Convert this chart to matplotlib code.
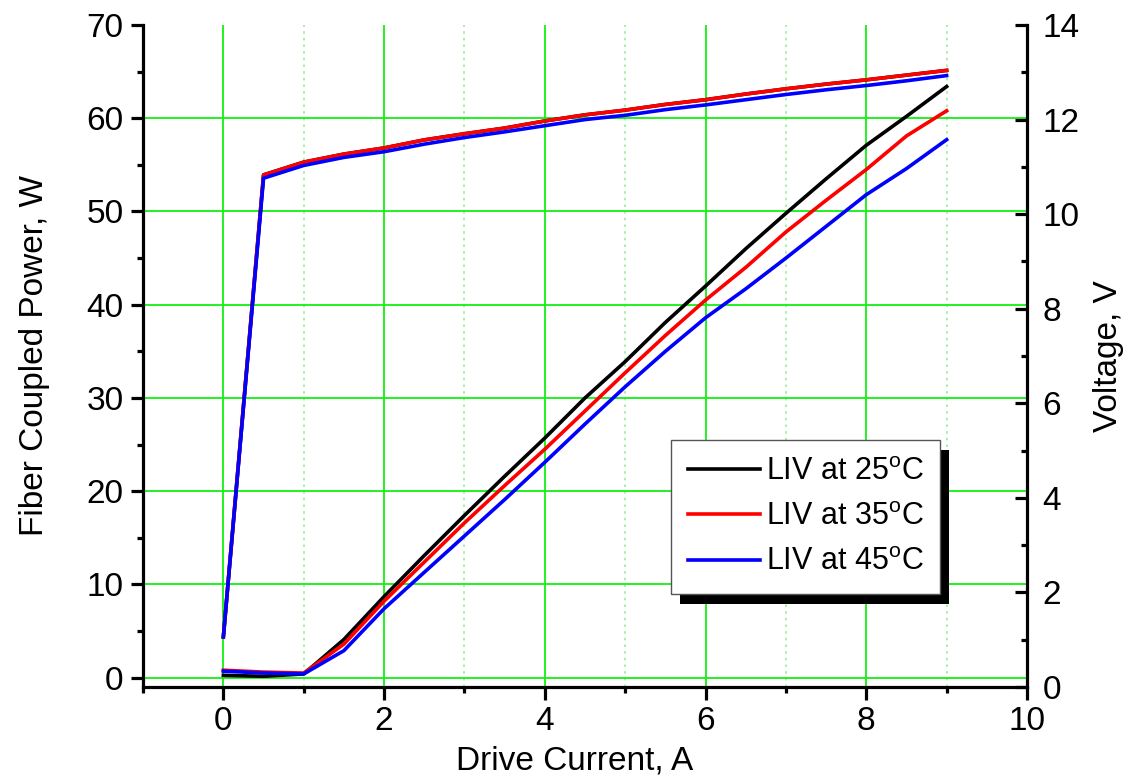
import matplotlib
matplotlib.use("Agg")
import matplotlib.pyplot as plt
from matplotlib.ticker import MultipleLocator
from matplotlib.patches import Rectangle

plt.rcParams['font.family'] = ['Liberation Sans', 'DejaVu Sans']
plt.rcParams['mathtext.fontset'] = 'custom'
plt.rcParams['mathtext.rm'] = 'Liberation Sans'
plt.rcParams['mathtext.it'] = 'Liberation Sans:italic'

current = [0, 0.5, 1, 1.5, 2, 2.5, 3, 3.5, 4, 4.5, 5, 5.5, 6, 6.5, 7, 7.5, 8, 8.5, 9]

power_25 = [0.25, 0.15, 0.4, 4.1, 8.7, 13.1, 17.4, 21.6, 25.7, 30.0, 33.9, 38.1, 42.0, 46.0, 49.8, 53.5, 57.1, 60.2, 63.4]
power_35 = [0.8, 0.6, 0.5, 3.6, 8.2, 12.4, 16.6, 20.6, 24.5, 28.6, 32.7, 36.7, 40.5, 44.0, 47.8, 51.2, 54.5, 58.1, 60.8]
power_45 = [0.7, 0.5, 0.4, 2.9, 7.4, 11.3, 15.2, 19.1, 23.1, 27.2, 31.2, 35.0, 38.6, 41.7, 45.0, 48.4, 51.8, 54.6, 57.7]

volt_25 = [1.06, 10.83, 11.10, 11.27, 11.40, 11.57, 11.70, 11.82, 11.97, 12.10, 12.20, 12.32, 12.42, 12.54, 12.65, 12.75, 12.84, 12.94, 13.04]
volt_35 = [1.06, 10.83, 11.10, 11.27, 11.40, 11.57, 11.70, 11.82, 11.97, 12.10, 12.20, 12.32, 12.42, 12.54, 12.65, 12.75, 12.84, 12.94, 13.04]
volt_45 = [1.06, 10.76, 11.03, 11.20, 11.32, 11.48, 11.62, 11.74, 11.87, 12.00, 12.09, 12.21, 12.31, 12.42, 12.53, 12.63, 12.72, 12.82, 12.93]

labels = ['LIV at 25$^{\\rm o}$C', 'LIV at 35$^{\\rm o}$C', 'LIV at 45$^{\\rm o}$C']
colors = ['black', '#ff0000', '#0000ff']

FS = 24
LFS = 22
fig = plt.figure(figsize=(11.29, 7.76), dpi=100)
ax = fig.add_axes([143/1129, 1-687/776, (1027-143)/1129, (687-25)/776])
ax2 = ax.twinx()

lw = 2.6
handles = []
for p, c, lab in zip([power_25, power_35, power_45], colors, labels):
    h, = ax.plot(current, p, color=c, lw=lw, label=lab, solid_joinstyle='round')
    handles.append(h)
for v, c in zip([volt_25, volt_35, volt_45], colors):
    ax2.plot(current, v, color=c, lw=lw, solid_joinstyle='round')

ax.set_xlim(-1, 10)
ax.set_ylim(-1, 70)
ax2.set_ylim(0, 14)

ax.xaxis.set_major_locator(MultipleLocator(2))
ax.xaxis.set_minor_locator(MultipleLocator(1))
ax.yaxis.set_major_locator(MultipleLocator(10))
ax.yaxis.set_minor_locator(MultipleLocator(5))
ax2.yaxis.set_major_locator(MultipleLocator(2))
ax2.yaxis.set_minor_locator(MultipleLocator(1))

spw = 2.3
for a in (ax, ax2):
    a.spines['top'].set_visible(False)
    for s in a.spines.values():
        s.set_linewidth(spw)
ax.spines['right'].set_visible(False)
ax2.spines['left'].set_visible(False)
ax2.spines['bottom'].set_visible(False)

ax.tick_params(axis='x', which='major', direction='out', length=9, width=spw, labelsize=FS, pad=5)
ax.tick_params(axis='x', which='minor', direction='out', length=4.5, width=spw)
ax.tick_params(axis='y', which='major', direction='out', length=9, width=spw, labelsize=FS, pad=5)
ax.tick_params(axis='y', which='minor', direction='out', length=4.5, width=spw)
ax2.tick_params(axis='y', which='major', direction='in', length=9, width=spw, labelsize=FS, pad=11)
ax2.tick_params(axis='y', which='minor', direction='in', length=4.5, width=spw)

ax.grid(True, which='major', axis='both', color='#11f011', lw=1.3, ls='-')
ax.grid(True, which='minor', axis='x', color='#99ee99', lw=1.2, ls=(0, (1.5, 2.5)))
ax.set_axisbelow(True)
fig.canvas.draw()
for gl, val in zip(ax.yaxis.get_gridlines(), ax.get_yticks()):
    if val >= 70 or val < 0:
        gl.set_visible(False)
for gl, val in zip(ax.xaxis.get_gridlines(), ax.get_xticks()):
    if val >= 10 or val <= -1:
        gl.set_visible(False)

ax.set_xlabel('Drive Current, A', fontsize=FS, labelpad=4)
ax.xaxis.set_label_coords(0.488, -0.088)
ax.set_ylabel('Fiber Coupled Power, W', fontsize=FS, labelpad=26)
ax2.set_ylabel('Voltage, V', fontsize=FS, labelpad=10)

leg = fig.legend(handles=handles, loc='upper left', bbox_to_anchor=(671/1129, 1-440/776),
                 fontsize=LFS, frameon=True, fancybox=False, framealpha=1,
                 borderaxespad=0, handlelength=2.35, handletextpad=0.2,
                 labelspacing=0.5, borderpad=0.55)
leg.get_frame().set_edgecolor('#555555')
leg.get_frame().set_facecolor('white')
leg.get_frame().set_linewidth(1.0)
leg.set_zorder(6)
fig.canvas.draw()
bb = leg.get_window_extent().transformed(fig.transFigure.inverted())
dx, dy = 9/1129, 10/776
shadow = Rectangle((bb.x0 + dx, bb.y0 - dy), bb.width, bb.height, transform=fig.transFigure,
                   facecolor='black', edgecolor='none', zorder=5.5)
fig.add_artist(shadow)

fig.savefig('out.png', dpi=100)
